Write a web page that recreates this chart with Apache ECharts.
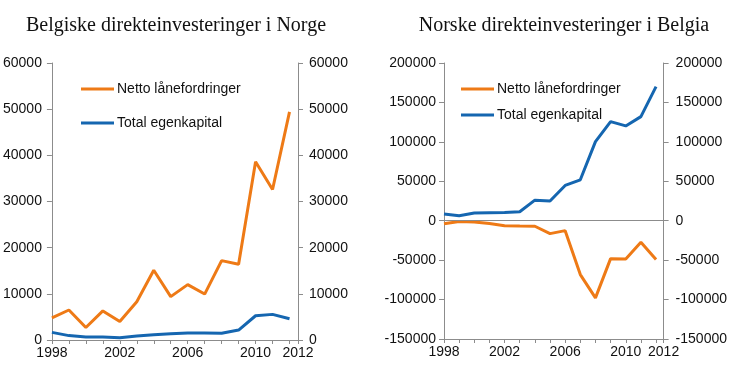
<!DOCTYPE html>
<html>
<head>
<meta charset="utf-8">
<script src="https://cdn.jsdelivr.net/npm/echarts@6/dist/echarts.min.js"></script>
<style>
  html, body { margin: 0; padding: 0; background: #fff; }
  #chart { width: 730px; height: 380px; }
</style>
</head>
<body>
<div id="chart"></div>
<script>
// år (verdiakse, ett tick per år)
const years = [1998, 1999, 2000, 2001, 2002, 2003, 2004, 2005, 2006, 2007, 2008, 2009, 2010, 2011, 2012]
const xTickLabels = ['1998', '2002', '2006', '2010', '2012']

// Belgiske direkteinvesteringer i Norge
const norgeLaan = [4800, 6500, 2700, 6300, 4000, 8300, 15100, 9400, 12000, 9950, 17200, 16400, 38600, 32600, 49400]
const norgeEgen = [1650, 950, 650, 650, 500, 850, 1150, 1350, 1500, 1500, 1450, 2150, 5250, 5550, 4600]

// Norske direkteinvesteringer i Belgia
const belgiaLaan = [-3800, -900, -1700, -3400, -6300, -6700, -7000, -16400, -12600, -68300, -97800, -48100, -48500, -27400, -49300]
const belgiaEgen = [8400, 6300, 9700, 10100, 10500, 11400, 26100, 24900, 44700, 51900, 100300, 125600, 120200, 132000, 170000]

const titles = ['Belgiske direkteinvesteringer i Norge', 'Norske direkteinvesteringer i Belgia']
const seriesNames = ['Netto lånefordringer', 'Total egenkapital']

const ORANGE = '#EE7A16'
const BLUE = '#1566B0'
const AXIS = '#8c8c8c'
const FONT = '"Liberation Sans", Arial, sans-serif'
const SERIF = '"Liberation Serif", "Times New Roman", serif'

const pair = (a, b) => a.map((v, i) => [b[i], v])

function xAxis(gridIndex) {
  return {
    type: 'value',
    gridIndex,
    min: 1998,
    max: 2012.5,
    interval: 1,
    axisLine: { show: true, onZero: false, lineStyle: { color: AXIS } },
    axisTick: { show: true, length: 4, lineStyle: { color: AXIS } },
    splitLine: { show: false },
    axisLabel: {
      color: '#111', fontFamily: FONT, fontSize: 14, margin: 6,
      showMinLabel: true, showMaxLabel: true,
      formatter: (v) => {
        if (v > years[years.length - 1]) return xTickLabels[xTickLabels.length - 1]
        const s = String(v)
        return xTickLabels.slice(0, -1).includes(s) ? s : ''
      }
    }
  }
}

function yAxis(gridIndex, position, min, max, interval, margin) {
  return {
    type: 'value',
    gridIndex,
    position,
    min,
    max,
    interval,
    axisLine: { show: true, lineStyle: { color: AXIS } },
    axisTick: { show: true, length: 5, lineStyle: { color: AXIS } },
    splitLine: { show: false },
    axisLabel: { color: '#111', fontFamily: FONT, fontSize: 14, margin, formatter: (v) => String(v) }
  }
}

function line(name, data, color, xi, yi, extra) {
  return Object.assign({
    name,
    type: 'line',
    xAxisIndex: xi,
    yAxisIndex: yi,
    data,
    symbol: 'none',
    lineStyle: { color, width: 3 },
    itemStyle: { color },
    animation: false
  }, extra || {})
}

const chart = echarts.init(document.getElementById('chart'))
chart.setOption({
  backgroundColor: '#fff',
  animation: false,
  title: [
    { text: titles[0], left: 171, top: 11, textAlign: 'center',
      textStyle: { fontFamily: SERIF, fontWeight: 'normal', fontSize: 20, color: '#111' } },
    { text: titles[1], left: 559, top: 11, textAlign: 'center',
      textStyle: { fontFamily: SERIF, fontWeight: 'normal', fontSize: 20, color: '#111' } }
  ],
  legend: [
    { left: 76, top: 77, orient: 'vertical', itemWidth: 33, itemHeight: 3, itemGap: 20,
      icon: 'rect', data: seriesNames.map((n) => n), selectedMode: false,
      textStyle: { fontFamily: FONT, fontSize: 14, color: '#111', padding: [0, 0, 0, -2] } },
    { left: 456, top: 77, orient: 'vertical', itemWidth: 33, itemHeight: 3, itemGap: 12,
      icon: 'rect', data: seriesNames.map((n) => n + ' '), selectedMode: false,
      textStyle: { fontFamily: FONT, fontSize: 14, color: '#111', padding: [0, 0, 0, -2] } }
  ],
  grid: [
    { left: 48, right: 432, top: 63, bottom: 40 },
    { left: 444, right: 61, top: 63, bottom: 41 }
  ],
  xAxis: [xAxis(0), xAxis(1)],
  yAxis: [
    yAxis(0, 'left', 0, 60000, 10000, 10),
    yAxis(0, 'right', 0, 60000, 10000, 11),
    yAxis(1, 'left', -150000, 200000, 50000, 8),
    yAxis(1, 'right', -150000, 200000, 50000, 12)
  ],
  series: [
    line(seriesNames[0], pair(norgeLaan, years), ORANGE, 0, 0),
    line(seriesNames[1], pair(norgeEgen, years), BLUE, 0, 0),
    line(seriesNames[0] + ' ', pair(belgiaLaan, years), ORANGE, 1, 2, {
      markLine: {
        silent: true,
        symbol: 'none',
        label: { show: false },
        lineStyle: { color: AXIS, width: 1, type: 'solid' },
        data: [{ yAxis: 0 }]
      }
    }),
    line(seriesNames[1] + ' ', pair(belgiaEgen, years), BLUE, 1, 2)
  ]
})
</script>
</body>
</html>
